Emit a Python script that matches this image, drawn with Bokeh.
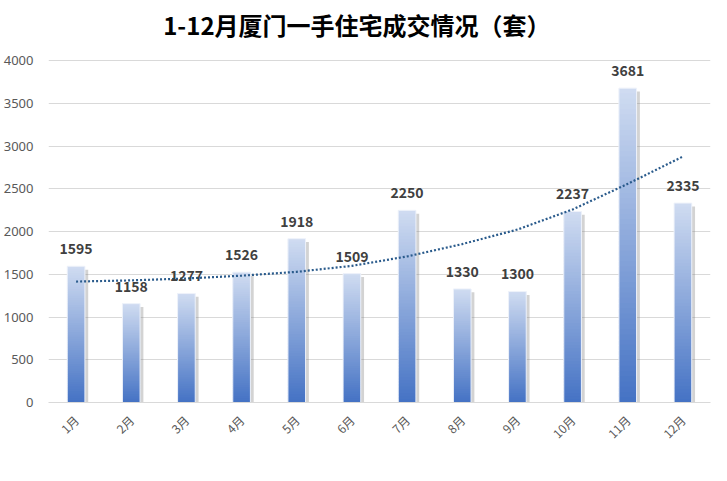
import math
from bokeh.plotting import figure
from bokeh.models import ColumnDataSource, FactorRange, Range1d, FixedTicker, Label, LabelSet
from bokeh.transform import dodge
from bokeh.embed import file_html
from bokeh.resources import INLINE
from bokeh.core.properties import value

# ---- data ----
months = ["1月", "2月", "3月", "4月", "5月", "6月", "7月", "8月", "9月", "10月", "11月", "12月"]
sales = [1595, 1158, 1277, 1526, 1918, 1509, 2250, 1330, 1300, 2237, 3681, 2335]
trend = [1416, 1430, 1452, 1485, 1530, 1600, 1710, 1855, 2025, 2260, 2560, 2880]
y_ticks = [0, 500, 1000, 1500, 2000, 2500, 3000, 3500, 4000]
title_text = "1-12月厦门一手住宅成交情况（套）"

# ---- styles ----
TOP_RGB = (208, 220, 241)
BOT_RGB = (68, 114, 196)
N_SLICES = 60
BAR_W = 0.32
Y_MAX = 4707

p = figure(x_range=FactorRange(*months, range_padding=0), y_range=Range1d(0, Y_MAX),
           width=711, height=465, output_backend="svg", toolbar_location=None,
           min_border_left=47, min_border_right=1, min_border_top=0, min_border_bottom=63)
p.outline_line_color = None
p.background_fill_color = "white"
p.border_fill_color = "white"

# shadow
shadow_src = ColumnDataSource(dict(x=months, top=[v - 40 for v in sales]))
p.vbar(x=dodge("x", 0.06, range=p.x_range), top="top", bottom=0, width=BAR_W,
       source=shadow_src, fill_color="#808080", fill_alpha=0.35, line_color=None)

# gradient bars built from overlapping slices
xs, bots, tops, cols = [], [], [], []
for m, v in zip(months, sales):
    for k in range(N_SLICES):
        t = (k + 0.5) / N_SLICES  # 0 bottom, 1 top
        r = round(BOT_RGB[0] + (TOP_RGB[0] - BOT_RGB[0]) * t)
        g = round(BOT_RGB[1] + (TOP_RGB[1] - BOT_RGB[1]) * t)
        b = round(BOT_RGB[2] + (TOP_RGB[2] - BOT_RGB[2]) * t)
        xs.append(m)
        bots.append(v * k / N_SLICES)
        tops.append(v * min(k + 1.8, N_SLICES) / N_SLICES)
        cols.append("#%02x%02x%02x" % (r, g, b))
slice_src = ColumnDataSource(dict(x=xs, bottom=bots, top=tops, color=cols))
p.vbar(x="x", top="top", bottom="bottom", width=BAR_W, source=slice_src,
       fill_color="color", line_color=None)

bar_src = ColumnDataSource(dict(x=months, top=sales, label=[str(v) for v in sales]))
p.vbar(x="x", top="top", bottom=0, width=BAR_W, source=bar_src,
       fill_color=None, line_color="#eef2fa", line_width=1)

# trend line
p.line(x=months, y=trend, line_color="#2a5b8c", line_width=2.2, line_dash="2 2")

# data labels
labels = LabelSet(x="x", y="top", text="label", source=bar_src, text_align="center",
                  text_baseline="alphabetic", y_offset=12, text_font_size=value("14px"),
                  text_font_style=value("bold"), text_color=value("#404040"),
                  text_font=value("Noto Sans CJK SC"))
p.add_layout(labels)

# title
p.add_layout(Label(x=5.59, y=4426, text=title_text, text_align="center", text_baseline="middle",
                   text_font_size="24px", text_font_style="bold", text_color="#000000",
                   text_font="Noto Sans CJK SC"))

# axes
p.yaxis.ticker = FixedTicker(ticks=y_ticks)
p.yaxis.axis_line_color = None
p.yaxis.major_tick_line_color = None
p.yaxis.minor_tick_line_color = None
p.yaxis.major_label_standoff = 9
p.yaxis.major_label_text_font = "Noto Sans"
p.yaxis.major_label_text_font_size = "13px"
p.yaxis.major_label_text_color = "#595959"

p.xaxis.axis_line_color = "#d9d9d9"
p.xaxis.major_tick_line_color = None
p.xaxis.minor_tick_line_color = None
p.xaxis.major_label_orientation = math.pi / 4
p.xaxis.major_label_standoff = 9
p.xaxis.major_label_text_font = "Noto Sans CJK SC"
p.xaxis.major_label_text_font_size = "12px"
p.xaxis.major_label_text_color = "#595959"

p.xgrid.grid_line_color = None
p.ygrid.grid_line_color = "#d9d9d9"
p.ygrid.ticker = FixedTicker(ticks=y_ticks)

open("out.html", "w").write(file_html(p, INLINE))
